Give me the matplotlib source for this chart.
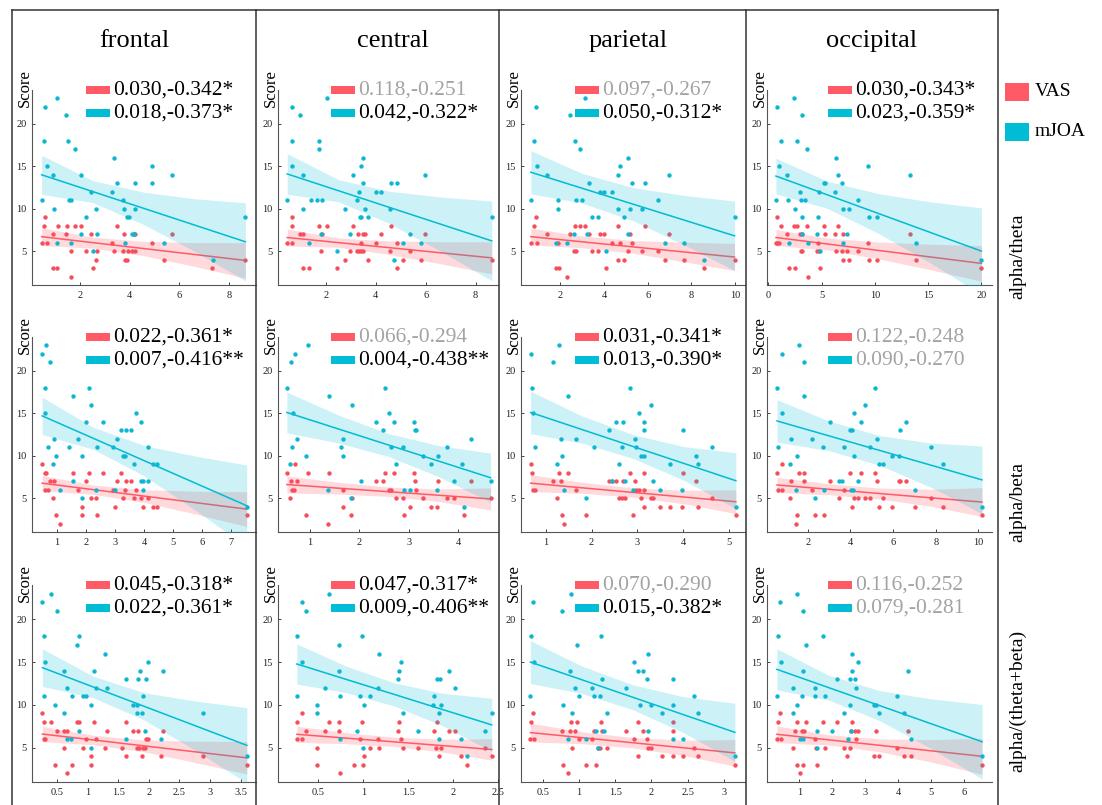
import matplotlib
matplotlib.use("Agg")
import matplotlib.pyplot as plt
from matplotlib.patches import Rectangle
from matplotlib.lines import Line2D

plt.rcParams['font.family'] = ['Liberation Serif', 'DejaVu Serif']

regions = ['frontal', 'central', 'parietal', 'occipital']
ratios = ['alpha/theta', 'alpha/beta', 'alpha/(theta+beta)']

# ---- scatter points: (x, score) ----
vas_theta_frontal = [(0.44,6),(0.53,8),(0.57,9),(0.67,6),(0.88,7),(0.91,3),(1.04,3),(1.09,8),(1.43,7),(1.48,8),(1.61,5),(1.63,2),(1.79,8),(2.01,8),(2.23,5),(2.43,7),(2.51,3),(2.64,4),(2.67,5),(3.28,6),(3.35,5),(3.47,8),(3.71,5),(3.75,7),(3.81,4),(3.89,4),(3.93,5),(4.11,5),(4.2,5),(4.16,7),(4.21,7),(4.91,6),(5.4,4),(5.69,7),(7.33,3),(8.67,4)]
joa_theta_frontal = [(0.47,11),(0.57,22),(0.53,18),(0.67,15),(1.07,23),(0.88,14),(0.93,10),(1.04,6),(1.43,21),(1.49,18),(1.55,11),(1.63,11),(1.64,6),(1.79,17),(2.01,14),(2.01,7),(2.23,9),(2.43,12),(2.51,5),(2.64,10),(2.67,7),(3.28,12),(3.35,16),(3.47,13),(3.71,11),(3.75,10),(3.81,6),(3.9,9),(3.96,9),(4.1,7),(4.16,7),(4.2,13),(4.21,10),(4.91,15),(4.91,13),(5.4,6),(5.69,14),(7.37,4),(8.67,9)]
vas_theta_central = [(0.45,6),(0.63,9),(0.63,8),(0.63,6),(0.96,7),(1.07,7),(1.07,3),(1.33,3),(1.73,8),(1.8,5),(1.83,7),(2.03,8),(2.44,3),(2.76,4),(2.96,5),(3.07,8),(3.24,5),(3.31,5),(3.39,5),(3.47,5),(3.27,7),(3.49,7),(3.57,7),(3.4,6),(3.69,4),(3.99,6),(4.19,7),(4.56,5),(4.63,8),(4.84,3),(4.85,6),(5.11,4),(5.36,5),(5.83,4),(5.96,7),(8.65,4)]
joa_theta_central = [(0.45,11),(0.63,22),(0.63,18),(0.63,15),(0.96,21),(1.07,14),(1.07,10),(1.33,6),(1.4,11),(1.64,11),(1.83,11),(1.73,18),(1.73,17),(1.8,7),(2.03,23),(2.44,5),(2.76,10),(2.96,7),(3.07,14),(3.24,11),(3.31,12),(3.36,9),(3.4,9),(3.39,15),(3.47,16),(3.49,13),(3.57,10),(3.69,9),(3.99,12),(4.19,12),(4.56,10),(4.63,13),(4.85,13),(4.73,4),(5.11,6),(5.36,7),(5.83,6),(5.96,14),(8.65,9)]
vas_theta_parietal = [(0.65,6),(0.8,8),(0.88,9),(0.92,6),(1.39,7),(1.8,3),(1.92,3),(1.89,6),(2.32,2),(2.44,7),(2.61,5),(2.71,5),(2.65,8),(2.89,8),(3.14,8),(3.33,7),(3.44,5),(3.73,5),(3.83,7),(4.02,7),(4.09,3),(4.35,6),(4.62,8),(4.64,4),(4.73,6),(4.92,4),(5.09,5),(5.2,7),(5.29,6),(5.73,5),(5.88,8),(6.47,5),(6.8,4),(6.97,7),(7.65,4),(8.58,3),(9.97,4)]
joa_theta_parietal = [(0.65,11),(0.8,18),(0.88,22),(0.92,15),(1.39,14),(1.8,6),(1.89,11),(1.91,10),(2.32,6),(2.44,21),(2.61,7),(2.65,18),(2.71,11),(2.89,17),(2.98,11),(3.14,23),(3.23,7),(3.33,13),(3.44,9),(3.73,9),(3.83,12),(4.02,12),(4.09,5),(4.35,12),(4.62,14),(4.64,10),(4.73,15),(4.92,9),(5.08,16),(5.09,7),(5.2,10),(5.29,13),(5.73,10),(5.88,13),(6.47,11),(6.8,6),(6.97,14),(7.65,6),(8.58,4),(9.97,9)]
vas_theta_occipital = [(0.72,6),(0.84,6),(1.0,6),(0.84,9),(1.16,8),(1.78,7),(1.91,3),(2.41,8),(2.72,8),(2.5,3),(2.97,7),(3.03,5),(3.16,5),(3.19,7),(3.66,8),(3.69,2),(4.53,5),(4.69,6),(4.75,5),(4.88,3),(5.22,8),(5.34,7),(6.25,7),(6.38,5),(6.59,8),(6.91,5),(7.0,4),(7.03,7),(7.41,5),(7.56,4),(8.44,5),(9.34,6),(9.47,4),(10.16,4),(13.34,7),(13.88,4),(20.0,3)]
joa_theta_occipital = [(0.72,11),(0.84,22),(1.0,15),(1.16,18),(1.78,14),(1.81,11),(1.91,6),(2.41,23),(2.5,10),(2.72,18),(2.97,12),(3.03,11),(3.16,9),(3.19,21),(3.19,7),(3.47,11),(3.66,17),(3.69,6),(4.53,7),(4.63,9),(4.75,12),(4.88,5),(5.22,13),(5.34,13),(6.25,12),(6.38,16),(6.59,14),(6.91,13),(7.0,10),(7.03,6),(7.41,7),(7.56,10),(8.44,11),(9.34,15),(9.47,9),(10.16,9),(13.34,14),(13.88,6),(20.0,4)]

vas_beta_frontal = [(0.49,9),(0.6,8),(0.62,8),(0.6,6),(0.7,6),(0.77,7),(0.85,5),(0.91,7),(0.97,3),(1.1,2),(1.57,8),(1.74,6),(1.85,4),(1.88,3),(2.0,7),(2.12,8),(2.19,5),(2.36,5),(2.37,3),(2.6,8),(2.92,6),(2.99,4),(3.08,7),(3.22,8),(3.26,5),(3.35,6),(3.38,7),(3.54,7),(3.65,5),(3.71,6),(3.9,5),(3.95,4),(4.15,5),(4.31,4),(4.45,4),(7.54,3)]
joa_beta_frontal = [(0.49,22),(0.62,23),(0.6,18),(0.6,15),(0.7,11),(0.77,21),(0.85,9),(0.91,12),(0.97,10),(1.1,6),(1.4,11),(1.54,7),(1.57,17),(1.74,12),(1.85,10),(1.88,5),(2.0,14),(2.12,18),(2.19,16),(2.36,6),(2.37,11),(2.6,14),(2.92,11),(2.99,6),(3.08,12),(3.22,13),(3.38,13),(3.54,13),(3.26,10),(3.35,10),(3.65,9),(3.71,15),(3.9,14),(3.9,7),(3.95,7),(3.97,6),(4.15,11),(4.14,7),(4.31,9),(4.45,9),(7.54,4)]
vas_beta_central = [(0.53,8),(0.6,5),(0.61,7),(0.64,6),(0.68,6),(0.7,9),(0.74,7),(0.91,3),(0.96,8),(1.36,2),(1.38,8),(1.66,6),(1.67,4),(1.83,3),(1.85,5),(2.33,7),(2.48,7),(2.51,8),(2.6,6),(2.65,6),(2.7,8),(2.74,5),(2.89,5),(2.9,3),(3.02,4),(3.11,8),(3.12,7),(3.14,6),(3.29,5),(3.46,4),(3.57,4),(3.59,7),(3.77,5),(3.91,5),(4.12,3),(4.26,7),(4.66,5)]
joa_beta_central = [(0.53,18),(0.61,21),(0.7,22),(0.96,23),(0.6,9),(0.64,11),(0.66,15),(0.74,12),(0.91,10),(1.36,6),(1.38,17),(1.62,11),(1.66,12),(1.67,10),(1.83,5),(1.85,16),(2.03,7),(2.33,14),(2.48,13),(2.51,18),(2.6,15),(2.65,11),(2.7,14),(2.74,9),(2.89,11),(2.9,6),(3.02,6),(3.11,14),(3.12,13),(3.14,13),(3.29,10),(3.46,9),(3.57,6),(3.59,10),(3.77,11),(3.91,7),(4.09,9),(4.12,4),(4.26,12),(4.66,7)]
vas_beta_parietal = [(0.67,9),(0.69,8),(0.73,6),(0.77,6),(1.15,7),(1.25,5),(1.3,8),(1.33,7),(1.36,3),(1.39,2),(1.49,8),(1.67,6),(1.88,3),(2.38,7),(2.45,7),(2.53,7),(2.6,5),(2.67,5),(2.73,5),(2.69,7),(2.84,8),(2.91,3),(2.95,7),(2.98,6),(3.04,6),(3.09,5),(3.14,8),(3.14,4),(3.15,6),(3.3,5),(3.34,5),(3.5,4),(3.71,4),(3.99,8),(3.97,4),(4.29,7),(4.32,4),(4.64,5),(5.15,3)]
joa_beta_parietal = [(0.67,22),(0.69,18),(0.73,15),(0.77,11),(1.15,21),(1.25,9),(1.3,23),(1.33,12),(1.36,10),(1.39,6),(1.49,17),(1.67,12),(1.88,5),(2.05,11),(2.38,13),(2.45,7),(2.53,14),(2.6,9),(2.67,11),(2.69,14),(2.73,7),(2.84,18),(2.91,6),(2.95,12),(2.98,11),(3.04,15),(3.09,10),(3.14,10),(3.14,14),(3.15,13),(3.3,16),(3.34,7),(3.5,6),(3.71,9),(3.97,6),(3.99,13),(4.29,10),(4.32,9),(4.64,11),(5.15,4)]
vas_beta_occipital = [(0.56,8),(0.61,6),(0.8,9),(0.8,6),(1.16,5),(1.22,7),(1.5,3),(1.45,2),(1.58,8),(1.81,8),(1.81,7),(2.2,6),(2.33,3),(2.75,3),(3.06,7),(3.45,5),(3.72,6),(3.97,8),(4.09,4),(4.17,5),(4.36,5),(4.52,8),(4.67,5),(4.94,5),(5.14,8),(5.25,7),(5.36,4),(5.53,5),(5.97,4),(6.3,7),(6.34,7),(6.61,7),(7.05,4),(7.78,5),(8.33,4),(10.17,3)]
joa_beta_occipital = [(0.56,18),(0.61,11),(0.8,22),(0.8,15),(1.16,9),(1.22,12),(1.45,6),(1.5,10),(1.58,23),(1.81,17),(1.81,21),(2.2,12),(2.33,5),(2.7,11),(2.75,6),(3.06,14),(3.45,7),(3.61,7),(3.72,11),(3.97,13),(4.09,13),(4.05,6),(4.13,6),(4.17,10),(4.17,15),(4.36,7),(4.52,14),(4.67,16),(4.94,11),(5.14,18),(5.25,12),(5.36,9),(5.53,9),(5.97,10),(6.3,10),(6.34,13),(6.61,14),(7.05,6),(7.78,11),(8.33,9),(10.17,4)]

vas_tb_frontal = [(0.26,9),(0.28,8),(0.28,6),(0.31,6),(0.4,8),(0.47,3),(0.5,7),(0.61,5),(0.62,7),(0.66,7),(0.66,2),(0.74,3),(0.82,8),(0.85,8),(0.92,5),(0.97,6),(1.06,4),(1.05,3),(1.11,8),(1.14,6),(1.28,5),(1.32,7),(1.56,5),(1.63,8),(1.63,4),(1.74,7),(1.81,5),(1.83,7),(1.84,5),(1.89,4),(1.9,5),(1.93,5),(1.96,6),(1.99,6),(2.19,4),(2.23,7),(2.88,4),(3.6,3)]
joa_tb_frontal = [(0.26,22),(0.28,18),(0.28,11),(0.31,15),(0.4,23),(0.47,10),(0.5,21),(0.61,9),(0.62,14),(0.66,12),(0.67,6),(0.73,6),(0.74,11),(0.82,17),(0.85,18),(0.85,7),(0.92,11),(0.97,11),(1.05,5),(1.06,10),(1.11,14),(1.14,12),(1.28,16),(1.32,12),(1.63,13),(1.63,6),(1.74,10),(1.81,9),(1.81,10),(1.83,13),(1.86,14),(1.89,9),(1.9,11),(1.93,7),(1.96,13),(1.99,15),(2.19,6),(2.23,14),(2.88,9),(3.6,4)]
vas_tb_central = [(0.26,6),(0.26,8),(0.32,6),(0.32,9),(0.36,7),(0.48,3),(0.48,5),(0.57,7),(0.62,8),(0.73,8),(0.73,7),(0.74,2),(0.9,3),(0.96,6),(0.98,8),(1.01,4),(1.0,3),(1.08,5),(1.16,6),(1.17,5),(1.39,7),(1.4,8),(1.42,6),(1.44,5),(1.61,5),(1.79,7),(1.81,5),(1.82,8),(1.84,4),(1.87,5),(1.95,7),(2.02,7),(2.09,4),(2.15,3),(2.35,5),(2.43,4)]
joa_tb_central = [(0.26,11),(0.26,18),(0.32,15),(0.32,22),(0.36,21),(0.62,23),(0.57,12),(0.48,10),(0.48,9),(0.73,17),(0.73,14),(0.74,11),(0.74,6),(0.93,7),(0.96,11),(0.98,18),(1.01,10),(1.0,5),(1.08,11),(1.16,12),(1.17,16),(1.39,13),(1.4,14),(1.42,15),(1.44,9),(1.61,7),(1.79,11),(1.78,10),(1.82,13),(1.85,13),(1.84,9),(1.84,6),(1.87,10),(1.95,14),(2.02,12),(2.09,6),(2.15,4),(2.35,7),(2.43,9)]
vas_tb_parietal = [(0.33,6),(0.34,8),(0.37,9),(0.38,6),(0.76,7),(0.78,3),(0.85,2),(0.87,7),(0.89,8),(0.9,5),(0.94,7),(0.97,8),(1.0,6),(1.09,3),(1.18,6),(1.21,7),(1.24,3),(1.26,5),(1.29,5),(1.31,8),(1.32,7),(1.38,5),(1.65,7),(1.76,6),(1.82,4),(1.82,8),(1.88,7),(1.94,6),(1.95,5),(2.0,5),(2.14,4),(2.3,4),(2.3,7),(2.3,8),(2.44,4),(2.59,5),(2.64,4),(3.15,3)]
joa_tb_parietal = [(0.33,11),(0.34,18),(0.37,22),(0.38,15),(0.76,21),(0.78,10),(0.85,6),(0.89,23),(0.87,14),(0.9,9),(0.94,12),(0.97,17),(1.0,11),(1.09,6),(1.18,12),(1.21,11),(1.24,7),(1.26,5),(1.29,11),(1.31,18),(1.32,13),(1.35,7),(1.38,9),(1.65,12),(1.76,15),(1.82,14),(1.84,10),(1.88,14),(1.94,13),(1.95,16),(1.95,7),(2.0,10),(2.14,9),(2.3,13),(2.3,10),(2.29,6),(2.44,6),(2.59,11),(2.64,9),(3.15,4)]
vas_tb_occipital = [(0.32,6),(0.35,8),(0.41,9),(0.44,6),(0.82,5),(0.87,7),(0.93,3),(0.94,8),(1.02,2),(1.08,7),(1.11,3),(1.14,7),(1.2,8),(1.47,6),(1.52,5),(1.55,3),(1.73,8),(1.79,5),(2.16,8),(2.35,5),(2.46,4),(2.55,5),(2.58,7),(2.61,8),(2.69,7),(2.73,6),(2.79,7),(3.26,4),(3.41,4),(3.34,7),(3.96,5),(4.18,4),(4.29,7),(4.4,4),(6.55,3)]
joa_tb_occipital = [(0.32,11),(0.35,18),(0.41,22),(0.44,15),(0.82,9),(0.82,12),(0.93,10),(0.94,23),(1.02,6),(1.07,11),(1.11,14),(1.11,6),(1.12,21),(1.2,17),(1.47,12),(1.49,11),(1.55,7),(1.55,5),(1.73,18),(1.79,11),(1.99,7),(2.16,13),(2.35,9),(2.49,6),(2.53,13),(2.55,10),(2.58,7),(2.61,16),(2.61,14),(2.79,15),(2.69,13),(2.73,12),(3.26,10),(3.34,10),(3.41,9),(3.96,11),(4.18,9),(4.29,14),(4.4,6),(6.55,4)]

# ---- fitted lines (x start/end) and end values, per row, columns in region order ----
span_theta = [(0.44, 8.67), (0.45, 8.65), (0.65, 9.97), (0.72, 20.0)]
span_beta = [(0.49, 7.54), (0.53, 4.66), (0.67, 5.15), (0.56, 10.17)]
span_tb = [(0.26, 3.6), (0.26, 2.43), (0.33, 3.15), (0.32, 6.55)]

vas_fit_theta = [(6.7, 3.9), (6.6, 4.2), (6.7, 4.3), (6.6, 3.55)]
joa_fit_theta = [(14.0, 6.1), (14.1, 6.2), (14.3, 6.8), (13.85, 5.0)]
vas_fit_beta = [(6.76, 3.7), (6.6, 4.9), (6.76, 4.57), (6.55, 4.53)]
joa_fit_beta = [(14.7, 4.1), (15.1, 7.4), (15.1, 7.05), (14.1, 7.15)]
vas_fit_tb = [(6.6, 3.82), (6.57, 4.8), (6.77, 4.4), (6.57, 4.0)]
joa_fit_tb = [(14.35, 5.28), (14.78, 7.67), (15.0, 6.8), (14.15, 5.7)]

# half width of the 95% band at 0, 25, 50, 75, 100 % of the span
ci_knots = [0.0, 0.25, 0.5, 0.75, 1.0]
vas_ci_theta = [[1.05, 0.65, 0.85, 1.4, 2.1], [1.0, 0.55, 0.8, 1.3, 1.9], [1.0, 0.7, 0.75, 1.15, 1.6], [0.95, 0.7, 1.0, 1.5, 2.1]]
joa_ci_theta = [[2.3, 1.3, 1.9, 3.1, 4.6], [2.4, 1.3, 1.9, 3.2, 4.7], [2.55, 1.75, 1.95, 2.9, 4.1], [2.1, 1.6, 2.35, 3.6, 5.1]]
vas_ci_beta = [[0.9, 0.55, 0.75, 1.35, 2.05], [1.0, 0.7, 0.55, 0.75, 1.3], [1.0, 0.65, 0.55, 0.8, 1.4], [0.9, 0.65, 0.65, 1.0, 1.7]]
joa_ci_beta = [[2.2, 1.3, 1.8, 3.2, 4.8], [2.4, 1.65, 1.35, 1.85, 2.9], [2.5, 1.6, 1.4, 2.0, 3.3], [2.5, 1.75, 1.75, 2.6, 4.0]]
vas_ci_tb = [[0.9, 0.55, 0.7, 1.25, 1.9], [0.95, 0.65, 0.55, 0.75, 1.25], [1.1, 0.7, 0.6, 0.9, 1.55], [0.98, 0.6, 0.75, 1.3, 2.1]]
joa_ci_tb = [[2.2, 1.25, 1.6, 2.9, 4.4], [2.35, 1.55, 1.35, 1.9, 3.1], [2.5, 1.6, 1.45, 2.1, 3.4], [2.4, 1.45, 1.75, 2.9, 4.35]]

# p value, r for VAS and mJOA
labels_theta = [("0.030,-0.342*", "0.018,-0.373*"), ("0.118,-0.251", "0.042,-0.322*"),
                ("0.097,-0.267", "0.050,-0.312*"), ("0.030,-0.343*", "0.023,-0.359*")]
labels_beta = [("0.022,-0.361*", "0.007,-0.416**"), ("0.066,-0.294", "0.004,-0.438**"),
               ("0.031,-0.341*", "0.013,-0.390*"), ("0.122,-0.248", "0.090,-0.270")]
labels_tb = [("0.045,-0.318*", "0.022,-0.361*"), ("0.047,-0.317*", "0.009,-0.406**"),
             ("0.070,-0.290", "0.015,-0.382*"), ("0.116,-0.252", "0.079,-0.281")]

xlim_theta = [(0.05, 9.1), (0.08, 8.9), (0.2, 10.45), (-0.12, 21.0)]
xlim_beta = [(0.14, 7.86), (0.35, 4.81), (0.46, 5.35), (0.09, 10.64)]
xlim_tb = [(0.09, 3.75), (0.05, 2.5), (0.2, 3.29), (0.02, 6.85)]
xticks_theta = [[2, 4, 6, 8], [2, 4, 6, 8], [2, 4, 6, 8, 10], [0, 5, 10, 15, 20]]
xticks_beta = [[1, 2, 3, 4, 5, 6, 7], [1, 2, 3, 4], [1, 2, 3, 4, 5], [2, 4, 6, 8, 10]]
xticks_tb = [[0.5, 1, 1.5, 2, 2.5, 3, 3.5], [0.5, 1, 1.5, 2, 2.5], [0.5, 1, 1.5, 2, 2.5, 3], [1, 2, 3, 4, 5, 6]]

RED = '#FF5A65'
CYAN = '#00BCD4'
GREY_TXT = '#a3a3a3'

W, H = 1102, 805
fig = plt.figure(figsize=(W / 100, H / 100), dpi=100)

def fx(px):
    return px / W

def fy(py):
    return 1 - py / H

col_left = [32, 278, 521, 767]
col_right = [256, 498, 745, 992]
row_top = [90, 337, 585]
row_bottom = [285, 532, 782]

rows = [
    (span_theta, vas_fit_theta, joa_fit_theta, vas_ci_theta, joa_ci_theta, labels_theta, xlim_theta, xticks_theta,
     [vas_theta_frontal, vas_theta_central, vas_theta_parietal, vas_theta_occipital],
     [joa_theta_frontal, joa_theta_central, joa_theta_parietal, joa_theta_occipital]),
    (span_beta, vas_fit_beta, joa_fit_beta, vas_ci_beta, joa_ci_beta, labels_beta, xlim_beta, xticks_beta,
     [vas_beta_frontal, vas_beta_central, vas_beta_parietal, vas_beta_occipital],
     [joa_beta_frontal, joa_beta_central, joa_beta_parietal, joa_beta_occipital]),
    (span_tb, vas_fit_tb, joa_fit_tb, vas_ci_tb, joa_ci_tb, labels_tb, xlim_tb, xticks_tb,
     [vas_tb_frontal, vas_tb_central, vas_tb_parietal, vas_tb_occipital],
     [joa_tb_frontal, joa_tb_central, joa_tb_parietal, joa_tb_occipital]),
]


def draw_series(ax, pts, span, fit, ci, line_col, pt_col, fill_alpha, z):
    x0, x1 = span
    kx = [x0 + f * (x1 - x0) for f in ci_knots]
    ky = [fit[0] + f * (fit[1] - fit[0]) for f in ci_knots]
    ax.fill_between(kx, [a - b for a, b in zip(ky, ci)], [a + b for a, b in zip(ky, ci)],
                    color=line_col, alpha=fill_alpha, lw=0, zorder=z)
    ax.plot([x0, x1], fit, color=line_col, lw=1.1, zorder=z + 1)
    ax.scatter([p[0] for p in pts], [p[1] for p in pts], s=10, color=pt_col, lw=0, zorder=z + 2)


for r, (span, vfit, jfit, vci, jci, labels, xlims, xticks, vas_pts, joa_pts) in enumerate(rows):
    for c in range(4):
        l, rr = col_left[c], col_right[c]
        t, b = row_top[r], row_bottom[r]
        ax = fig.add_axes([fx(l), fy(b), (rr - l) / W, (b - t) / H])
        draw_series(ax, vas_pts[c], span[c], vfit[c], vci[c], RED, '#F64E5B', 0.22, 1)
        draw_series(ax, joa_pts[c], span[c], jfit[c], jci[c], CYAN, '#0DB6D2', 0.2, 4)

        ax.set_xlim(*xlims[c])
        ax.set_ylim(1, 24)
        ax.set_xticks(xticks[c])
        ax.set_xticklabels(['%g' % v for v in xticks[c]])
        ax.set_yticks([5, 10, 15, 20])
        ax.tick_params(labelsize=7.5, length=2.5, width=0.6, direction='in', pad=4, colors='#222222')
        for s in ['top', 'right']:
            ax.spines[s].set_visible(False)
        for s in ['left', 'bottom']:
            ax.spines[s].set_color('#555555')
            ax.spines[s].set_linewidth(0.8)

        ax.text(-0.031, 1.01, 'Score', rotation=90, fontsize=12, ha='center', va='center',
                transform=ax.transAxes)

        # p/r labels with colour keys
        lx = 0.27 if c == 3 else 0.24
        pw = 24 / (rr - l)
        for k, (txt, col, yy) in enumerate([(labels[c][0], RED, 1.0), (labels[c][1], CYAN, 0.882)]):
            ax.add_patch(Rectangle((lx, yy - 0.021), pw, 0.042, transform=ax.transAxes,
                                   color=col, lw=0, clip_on=False))
            ax.text(lx + pw + 0.017, yy, txt, transform=ax.transAxes, fontsize=15.5,
                    va='center', ha='left', color='black' if '*' in txt else GREY_TXT)

# column titles
for x, name in zip([134, 393, 628, 872], regions):
    fig.text(fx(x), fy(41), name, fontsize=19, ha='center', va='center')

# row titles
for y, name in zip([256, 502, 701], ratios):
    fig.text(fx(1018), fy(y), name, fontsize=14, rotation=90, ha='center', va='center')

# frame lines around the columns
for x in [12, 256, 499, 746, 998]:
    fig.add_artist(Line2D([fx(x), fx(x)], [fy(10), fy(805)], color='#333333', lw=1.1))
fig.add_artist(Line2D([fx(12), fx(998)], [fy(10), fy(10)], color='#333333', lw=1.1))

# legend
for y, col, name in [(92, RED, 'VAS'), (132, CYAN, 'mJOA')]:
    fig.add_artist(Rectangle((fx(1005), fy(y + 9)), 24 / W, 18 / H, color=col, lw=0,
                             transform=fig.transFigure))
    fig.text(fx(1035), fy(y), name, fontsize=14, ha='left', va='center')

fig.savefig('out.png', dpi=100)
